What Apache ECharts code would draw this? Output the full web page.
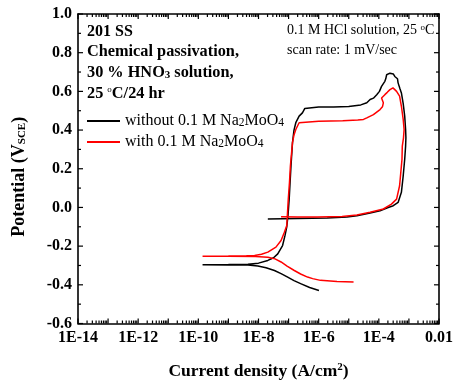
<!DOCTYPE html>
<html>
<head>
<meta charset="utf-8">
<script src="https://cdn.jsdelivr.net/npm/echarts@6/dist/echarts.min.js"></script>
<style>
  html, body { margin: 0; padding: 0; background: #fff; }
  #chart { width: 456px; height: 385px; }
</style>
</head>
<body>
<div id="chart"></div>
<script>
// Potentiodynamic polarization of chemically passivated 201 SS in 0.1 M HCl.
// Current density is kept as log10(A/cm^2); potential in V vs SCE.

const seriesNames = ['without 0.1 M Na2MoO4', 'with 0.1 M Na2MoO4'];

// without molybdate (black)
const logIWithout = [
  -5.99, -6.30, -6.60, -6.82, -7.03, -7.25, -7.47, -7.75, -8.02, -8.35, -9.00, -9.86,
  -9.00, -8.35, -8.00, -7.69, -7.50, -7.36, -7.20, -7.12, -7.06, -7.02, -6.98, -6.95,
  -6.92, -6.87, -6.82, -6.76, -6.65, -6.54, -6.46, -6.40,
  -6.00, -5.50, -5.00, -4.60, -4.40, -4.29, -4.18, -4.07, -3.98, -3.91, -3.86, -3.80,
  -3.77, -3.74, -3.68, -3.63, -3.58, -3.52, -3.47, -3.43, -3.41, -3.38, -3.36, -3.30,
  -3.25, -3.19, -3.14, -3.11, -3.10, -3.11, -3.14, -3.19, -3.25, -3.36, -3.52, -3.69,
  -3.96, -4.29, -4.73, -5.06, -5.72, -6.70, -7.69
];
const potentialWithout = [
  -0.429, -0.414, -0.394, -0.378, -0.360, -0.342, -0.326, -0.312, -0.303, -0.298, -0.297, -0.296,
  -0.295, -0.294, -0.288, -0.274, -0.260, -0.240, -0.197, -0.146, -0.100, -0.043, 0.043, 0.130,
  0.214, 0.335, 0.400, 0.438, 0.472, 0.489, 0.512, 0.520,
  0.519, 0.519, 0.522, 0.530, 0.541, 0.558, 0.565, 0.583, 0.600, 0.626, 0.632, 0.652,
  0.665, 0.686, 0.688, 0.694, 0.695, 0.690, 0.677, 0.682, 0.686, 0.665, 0.644, 0.615,
  0.592, 0.537, 0.472, 0.403, 0.360, 0.317, 0.249, 0.163, 0.078, 0.026, 0.009, 0.000,
  -0.017, -0.029, -0.043, -0.049, -0.054, -0.057, -0.060
];

// with molybdate (red)
const logIWith = [
  -4.84, -5.39, -5.94, -6.20, -6.37, -6.60, -6.81, -7.05, -7.25, -7.45, -7.69, -8.10, -9.00, -9.86,
  -9.00, -8.40, -8.13, -7.90, -7.69, -7.42, -7.25, -7.14, -7.06, -7.01, -6.97, -6.94,
  -6.87, -6.82, -6.76, -6.65, -6.59,
  -6.00, -5.20, -4.70, -4.51, -4.40, -4.18, -3.96, -3.88, -3.85, -3.91, -3.80, -3.72,
  -3.63, -3.58, -3.53, -3.41, -3.31, -3.25, -3.19, -3.16, -3.18, -3.22, -3.23, -3.25,
  -3.31, -3.41, -3.58, -3.85, -4.29, -4.73, -5.22, -6.04, -6.70, -7.25
];
const potentialWith = [
  -0.385, -0.383, -0.377, -0.368, -0.360, -0.344, -0.326, -0.303, -0.282, -0.266, -0.257, -0.253, -0.252, -0.252,
  -0.251, -0.250, -0.248, -0.242, -0.231, -0.205, -0.171, -0.128, -0.094, 0.043, 0.130, 0.214,
  0.335, 0.375, 0.403, 0.438, 0.444,
  0.445, 0.448, 0.452, 0.455, 0.463, 0.480, 0.506, 0.520, 0.541, 0.566, 0.583, 0.595,
  0.609, 0.613, 0.618, 0.600, 0.575, 0.523, 0.455, 0.403, 0.360, 0.317, 0.249, 0.215,
  0.112, 0.043, 0.017, -0.008, -0.025, -0.039, -0.047, -0.049, -0.049, -0.048
];

// axis ranges (decades of current density, volts)
const xDecades = [-14, -2];
const yRange = [-0.6, 1.0];
const yStep = 0.2;

const serif = '"Liberation Serif", "Times New Roman", serif';

function pairs(xs, ys) {
  return xs.map((x, i) => [x, ys[i]]);
}

function decadeLabel(v) {
  const e = Math.round(v);
  if (e % 2 !== 0) return '';
  if (e === -2) return '0.01';
  return '1E' + e;
}

// frame tick marks: [position, side, length]; side 0 bottom, 1 top, 2 left, 3 right
const MAJOR = 5, MINOR = 3;
const frameTicks = [];
for (let d = xDecades[0]; d <= xDecades[1]; d++) {
  frameTicks.push([d, 0, MAJOR], [d, 1, MAJOR]);
  if (d < xDecades[1]) {
    for (let k = 2; k <= 9; k++) {
      const p = d + Math.log10(k);
      frameTicks.push([p, 0, MINOR], [p, 1, MINOR]);
    }
  }
}
for (let i = 0; i <= Math.round((yRange[1] - yRange[0]) / yStep); i++) {
  const v = yRange[0] + i * yStep;
  frameTicks.push([v, 2, MAJOR], [v, 3, MAJOR]);
  if (v < yRange[1] - 1e-9) {
    frameTicks.push([v + yStep / 2, 2, MINOR], [v + yStep / 2, 3, MINOR]);
  }
}

function renderFrameTick(params, api) {
  const pos = api.value(0), side = api.value(1), len = api.value(2);
  let a, b;
  if (side === 0) { a = api.coord([pos, yRange[0]]); b = [a[0], a[1] - len]; }
  else if (side === 1) { a = api.coord([pos, yRange[1]]); b = [a[0], a[1] + len]; }
  else if (side === 2) { a = api.coord([xDecades[0], pos]); b = [a[0] + len, a[1]]; }
  else { a = api.coord([xDecades[1], pos]); b = [a[0] - len, a[1]]; }
  return {
    type: 'line',
    shape: { x1: a[0], y1: a[1], x2: b[0], y2: b[1] },
    style: { stroke: '#000000', lineWidth: 1.2 }
  };
}

function frame() {
  return { show: true, onZero: false, lineStyle: { color: '#000000', width: 1.6 } };
}

const chart = echarts.init(document.getElementById('chart'));

const option = {
  animation: false,
  grid: { left: 78, right: 13, top: 14, bottom: 61 },
  legend: {
    left: 82,
    top: 107,
    orient: 'vertical',
    itemWidth: 33,
    itemHeight: 2,
    itemGap: 4,
    icon: 'rect',
    data: seriesNames,
    formatter: name => name.replace('Na2MoO4', 'Na{sub|2}MoO{sub|4}'),
    textStyle: {
      fontFamily: serif, fontSize: 16, color: '#000', lineHeight: 16,
      rich: {
        sub: { fontFamily: serif, fontSize: 11.5, verticalAlign: 'bottom', lineHeight: 16, padding: [5, 0, 0, 0] }
      }
    }
  },
  xAxis: [
    {
      type: 'value', position: 'bottom', min: xDecades[0], max: xDecades[1], interval: 1,
      name: 'Current density (A/cm{sup|2})',
      nameLocation: 'middle', nameGap: 38,
      nameTextStyle: {
        fontFamily: serif, fontSize: 17.5, fontWeight: 'bold', color: '#000',
        rich: { sup: { fontFamily: serif, fontSize: 11, fontWeight: 'bold', verticalAlign: 'top', padding: [0, 0, 8, 0] } }
      },
      axisLine: frame(),
      axisTick: { show: false },
      splitLine: { show: false },
      axisLabel: {
        formatter: decadeLabel, margin: 6, color: '#000',
        fontFamily: serif, fontSize: 16, fontWeight: 'bold'
      }
    },
    {
      type: 'value', position: 'top', min: xDecades[0], max: xDecades[1], interval: 1,
      axisLine: frame(),
      axisTick: { show: false },
      axisLabel: { show: false }, splitLine: { show: false }
    }
  ],
  yAxis: [
    {
      type: 'value', position: 'left', min: yRange[0], max: yRange[1], interval: yStep,
      name: 'Potential (V{sub|SCE})',
      nameLocation: 'middle', nameGap: 50, nameRotate: 90,
      nameTextStyle: {
        fontFamily: serif, fontSize: 18, fontWeight: 'bold', color: '#000',
        padding: [0, 16, 0, 0],
        rich: { sub: { fontFamily: serif, fontSize: 11, fontWeight: 'bold', verticalAlign: 'bottom', padding: [7, 0, 0, 0] } }
      },
      axisLine: frame(),
      axisTick: { show: false },
      splitLine: { show: false },
      axisLabel: {
        formatter: v => v.toFixed(1), margin: 6, color: '#000',
        fontFamily: serif, fontSize: 16, fontWeight: 'bold'
      }
    },
    {
      type: 'value', position: 'right', min: yRange[0], max: yRange[1], interval: yStep,
      axisLine: frame(),
      axisTick: { show: false },
      axisLabel: { show: false }, splitLine: { show: false }
    }
  ],
  graphic: [
    { type: 'text', x: 87, y: 31.5, style: { text: '201 SS', fontFamily: serif, fontSize: 16, fontWeight: 'bold', fill: '#000', verticalAlign: 'middle' } },
    { type: 'text', x: 87, y: 52, style: { text: 'Chemical passivation,', fontFamily: serif, fontSize: 16.3, fontWeight: 'bold', fill: '#000', verticalAlign: 'middle' } },
    { type: 'text', x: 87, y: 72.5, style: {
        text: '30 % HNO{sub|3} solution,', fontFamily: serif, fontSize: 16.3, fontWeight: 'bold', fill: '#000', verticalAlign: 'middle',
        rich: { sub: { fontFamily: serif, fontSize: 11, fontWeight: 'bold', verticalAlign: 'bottom', lineHeight: 16, padding: [5, 0, 0, 0] } }
      } },
    { type: 'text', x: 87, y: 93.5, style: {
        text: '25 {sup|o}C/24 hr', fontFamily: serif, fontSize: 16.3, fontWeight: 'bold', fill: '#000', verticalAlign: 'middle',
        rich: { sup: { fontFamily: serif, fontSize: 9, fontWeight: 'normal', verticalAlign: 'top', lineHeight: 16, padding: [0, 0, 6, 0] } }
      } },
    { type: 'text', x: 287, y: 30, style: {
        text: '0.1 M HCl solution, 25 {sup|o}C', fontFamily: serif, fontSize: 14, fill: '#000', verticalAlign: 'middle',
        rich: { sup: { fontFamily: serif, fontSize: 9, verticalAlign: 'top', lineHeight: 14, padding: [0, 0, 5, 0] } }
      } },
    { type: 'text', x: 287, y: 50, style: { text: 'scan rate: 1 mV/sec', fontFamily: serif, fontSize: 14, fill: '#000', verticalAlign: 'middle' } }
  ],
  series: [
    {
      name: seriesNames[0], type: 'line', xAxisIndex: 0, yAxisIndex: 0,
      data: pairs(logIWithout, potentialWithout),
      showSymbol: false, symbol: 'none', smooth: false,
      lineStyle: { color: '#000000', width: 1.5 }, itemStyle: { color: '#000000' }
    },
    {
      name: seriesNames[1], type: 'line', xAxisIndex: 0, yAxisIndex: 0,
      data: pairs(logIWith, potentialWith),
      showSymbol: false, symbol: 'none', smooth: false,
      lineStyle: { color: '#ff0000', width: 1.5 }, itemStyle: { color: '#ff0000' }
    },
    {
      name: 'frame ticks', type: 'custom', xAxisIndex: 0, yAxisIndex: 0,
      silent: true, clip: false, z: 5,
      encode: { x: 0, y: 1 },
      data: frameTicks,
      renderItem: renderFrameTick
    }
  ]
};

chart.setOption(option);
</script>
</body>
</html>
